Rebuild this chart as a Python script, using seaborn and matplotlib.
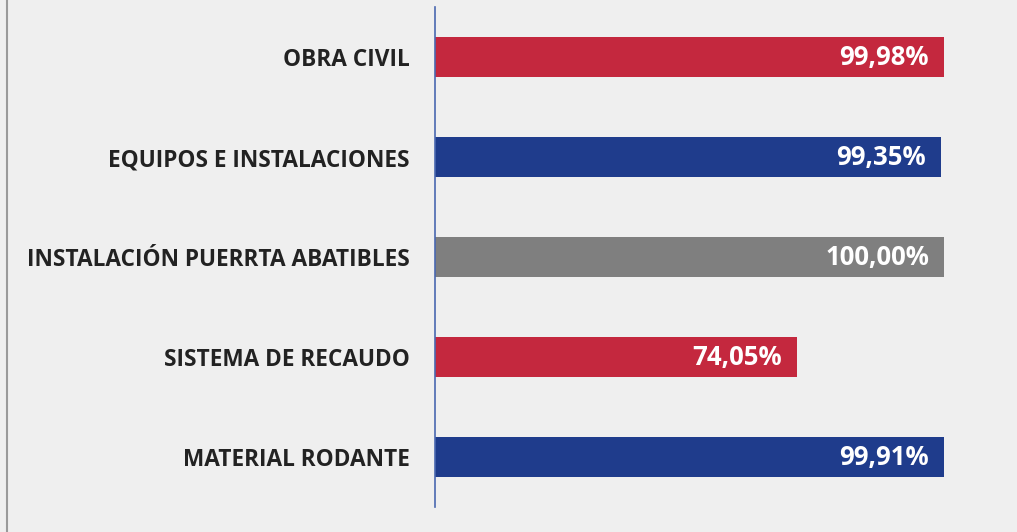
import pandas as pd
import seaborn as sns
import matplotlib.pyplot as plt

categorias = ["OBRA CIVIL", "EQUIPOS E INSTALACIONES", "INSTALACIÓN PUERRTA ABATIBLES",
              "SISTEMA DE RECAUDO", "MATERIAL RODANTE"]
avance = [99.98, 99.35, 100.00, 74.05, 99.91]
etiquetas = ["99,98%", "99,35%", "100,00%", "74,05%", "99,91%"]
colores = ["#C4283E", "#1F3C8C", "#7F7F7F", "#C4283E", "#1F3C8C"]

df = pd.DataFrame({"cat": categorias, "val": avance})

sns.set_style("white")
plt.rcParams["font.family"] = ["Open Sans", "DejaVu Sans"]

fig = plt.figure(figsize=(10.17, 5.32), dpi=100)
fig.patch.set_facecolor("#efefef")
ax = fig.add_axes([435 / 1017, 25 / 532, 582 / 1017, 500 / 532])
ax.set_facecolor("#efefef")

sns.barplot(data=df, y="cat", x="val", hue="cat", palette=colores, order=categorias,
            width=0.4, legend=False, ax=ax, saturation=1, linewidth=0)

for i, (v, t) in enumerate(zip(avance, etiquetas)):
    ax.annotate(t, xy=(v, i), xytext=(-11, 0), textcoords="offset points",
                ha="right", va="center", color="white", fontsize=18.5, fontweight="bold")

ax.set_xlim(10.2, 112.8)
ax.set_ylim(4.5, -0.5)
ax.set_xlabel("")
ax.set_ylabel("")
ax.set_xticks([])
ax.tick_params(axis="y", length=0, pad=18)
for lab in ax.get_yticklabels():
    lab.set_fontsize(16.3)
    lab.set_fontweight("bold")
    lab.set_color("#222222")
for s in ["top", "right", "bottom"]:
    ax.spines[s].set_visible(False)
ax.spines["left"].set_color("#4a68b0")
ax.spines["left"].set_linewidth(1.2)

# borde gris a la izquierda
fig.add_artist(plt.Line2D([7 / 1017, 7 / 1017], [0, 1], color="#9a9a9a", lw=1.5))

fig.savefig("out.png", dpi=100, facecolor=fig.get_facecolor())
